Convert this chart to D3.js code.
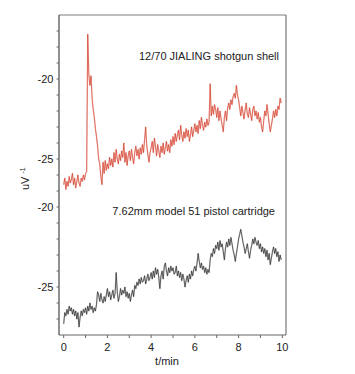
<!DOCTYPE html>
<html>
<head>
<meta charset="utf-8">
<script src="https://cdn.jsdelivr.net/npm/d3@7"></script>
<style>
html,body{margin:0;padding:0;background:#fff;}
svg{display:block;}
text{font-family:"Liberation Sans",Arial,sans-serif;fill:#222;}
</style>
</head>
<body>
<svg id="chart" width="355" height="374"></svg>
<script>
// sampling step of both traces (minutes)
const step = 0.05;
// 12/70 JIALING shotgun shell (upper trace)
const shotgun = [
-26.6,-26.2,-26.9,-26.4,-26.7,-26.1,-26.5,-26.3,-25.9,-26.6,-26.2,-26.8,-26.4,-26.0,-26.5,-26.7,-26.2,-26.4,-26.0,-26.3,
-25.9,-25.8,-17.2,-19.7,-20.4,-19.8,-21.2,-21.9,-22.4,-23.1,-23.6,-24.2,-25.0,-25.3,-26.1,-26.6,-25.2,-25.9,-25.1,-25.7,
-25.3,-25.6,-24.9,-25.4,-25.0,-25.5,-24.6,-25.2,-24.4,-25.0,-25.3,-24.7,-25.1,-24.5,-24.9,-24.0,-25.2,-24.6,-25.4,-24.8,
-24.5,-25.1,-24.4,-24.9,-25.3,-24.6,-24.2,-24.8,-24.4,-25.0,-24.3,-24.7,-24.1,-24.6,-23.8,-23.0,-24.2,-24.7,-25.2,-24.6,
-24.3,-23.9,-24.6,-23.7,-24.2,-24.8,-24.1,-24.5,-24.9,-24.2,-24.6,-24.0,-24.7,-24.3,-23.9,-24.5,-24.1,-24.6,-23.8,-24.2,
-23.6,-24.1,-23.4,-23.9,-23.5,-23.2,-23.8,-22.9,-23.5,-23.9,-23.3,-23.7,-23.1,-23.6,-23.2,-23.9,-23.5,-23.0,-23.6,-23.2,
-22.8,-23.3,-22.9,-23.4,-22.6,-23.1,-22.4,-22.9,-23.2,-22.7,-23.0,-22.5,-22.9,-22.7,-20.3,-22.3,-21.7,-22.2,-21.6,-21.9,
-22.4,-21.8,-22.6,-22.0,-22.5,-22.9,-23.3,-22.4,-22.0,-22.6,-21.8,-21.5,-21.9,-21.3,-21.6,-21.1,-20.9,-21.2,-20.4,-21.0,
-21.3,-21.8,-22.3,-21.7,-22.1,-22.5,-21.9,-21.5,-22.2,-22.4,-21.8,-22.2,-22.6,-21.9,-21.7,-22.3,-22.0,-22.5,-22.1,-22.7,
-22.4,-23.0,-23.3,-22.6,-22.0,-22.3,-21.6,-22.2,-22.8,-23.3,-22.9,-22.5,-22.0,-22.4,-21.9,-22.3,-21.7,-21.9,-21.2,-21.5
];
// 7.62mm model 51 pistol cartridge (lower trace)
const pistol = [
-27.3,-26.6,-26.8,-26.4,-26.7,-26.2,-26.5,-26.3,-26.7,-26.4,-26.8,-26.5,-27.0,-26.6,-27.5,-26.9,-26.5,-26.8,-26.4,-26.6,
-26.3,-26.7,-26.2,-26.5,-26.0,-26.4,-26.2,-26.6,-26.3,-26.5,-26.1,-25.3,-25.5,-25.9,-25.4,-25.8,-26.0,-25.6,-25.9,-25.5,
-25.1,-25.6,-25.3,-25.8,-25.5,-25.2,-25.7,-25.4,-24.1,-25.3,-25.9,-25.6,-25.1,-25.5,-25.2,-25.4,-25.0,-25.6,-25.3,-25.7,
-25.4,-25.9,-25.5,-25.2,-25.6,-24.9,-25.1,-24.7,-24.9,-24.5,-24.8,-24.4,-24.7,-24.6,-24.3,-24.8,-24.5,-24.2,-24.6,-24.4,
-24.1,-24.5,-24.0,-24.4,-23.8,-24.2,-23.9,-24.4,-25.1,-24.3,-24.0,-24.5,-23.7,-23.5,-24.0,-24.3,-23.8,-24.1,-23.7,-24.0,
-23.8,-24.2,-24.1,-23.7,-24.3,-24.0,-24.4,-24.1,-24.6,-24.2,-24.5,-25.0,-24.6,-24.3,-24.7,-24.2,-24.5,-24.0,-24.3,-23.9,
-23.7,-24.0,-23.5,-22.9,-23.4,-23.8,-23.5,-23.9,-23.7,-24.1,-23.8,-24.2,-23.9,-24.1,-23.3,-22.9,-23.1,-22.6,-22.9,-22.4,
-22.6,-22.2,-22.7,-22.1,-22.5,-22.3,-22.8,-23.3,-22.6,-22.2,-22.5,-22.0,-22.4,-21.9,-22.3,-22.7,-23.0,-23.4,-22.9,-22.5,
-22.0,-21.7,-21.4,-21.8,-22.2,-22.5,-22.9,-22.6,-22.3,-22.8,-23.2,-22.7,-22.4,-22.0,-22.3,-21.9,-22.2,-22.4,-22.1,-22.6,
-22.3,-22.8,-22.5,-22.9,-22.6,-23.1,-22.7,-23.3,-22.9,-23.6,-23.2,-22.8,-22.5,-22.9,-22.6,-23.1,-22.8,-23.4,-23.0,-23.3
];
const xTicks = [0, 2, 4, 6, 8, 10];
const xMinorTicks = [0,1,2,3,4,5,6,7,8,9,10];
const yLabelTicks = [-20, -25];
const topMinorTicks = [-17,-18,-19,-20,-21,-22,-23,-24,-25,-26];
const botMinorTicks = [-19,-20,-21,-22,-23,-24,-25,-26,-27];
const labelTop = "12/70 JIALING shotgun shell";
const labelBot = "7.62mm model 51 pistol cartridge";

const svg = d3.select("#chart");
const L = 59, R = 286, T = 15, B = 335;

const x = d3.scaleLinear().domain([0, 10]).range([63.7, 282.3]);
const yTop = d3.scaleLinear().domain([-20, -25]).range([79, 159]);
const yBot = d3.scaleLinear().domain([-20, -25]).range([207, 287]);

// frame
svg.append("line").attr("x1", L).attr("x2", R).attr("y1", T).attr("y2", T)
  .attr("stroke", "#a8a8a8").attr("stroke-width", 1.6);
svg.append("line").attr("x1", R).attr("x2", R).attr("y1", T).attr("y2", B)
  .attr("stroke", "#6a6a6a").attr("stroke-width", 1.1);

// traces
function drawTrace(data, yScale, halo, core) {
  const line = d3.line().x((d, i) => x(i * step)).y(d => yScale(d));
  svg.append("path").attr("d", line(data)).attr("fill", "none")
    .attr("stroke", halo).attr("stroke-width", 1.5).attr("stroke-linejoin", "round");
  svg.append("path").attr("d", line(data)).attr("fill", "none")
    .attr("stroke", core).attr("stroke-width", 0.6).attr("stroke-linejoin", "round");
}
drawTrace(shotgun, yTop, "#f3cfc8", "#d02a18");
drawTrace(pistol, yBot, "#cccccc", "#151515");

// y axis
svg.append("line").attr("x1", L).attr("x2", L).attr("y1", T).attr("y2", B)
  .attr("stroke", "#555").attr("stroke-width", 1.3);
const yTickG = svg.append("g");
topMinorTicks.forEach(v => yTickG.append("line").attr("x1", L - 2.5).attr("x2", L)
  .attr("y1", yTop(v)).attr("y2", yTop(v)).attr("stroke", "#666").attr("stroke-width", 1));
botMinorTicks.forEach(v => yTickG.append("line").attr("x1", L - 2.5).attr("x2", L)
  .attr("y1", yBot(v)).attr("y2", yBot(v)).attr("stroke", "#666").attr("stroke-width", 1));
[yTop, yBot].forEach(s => yLabelTicks.forEach(v => {
  svg.append("text").attr("x", 53.5).attr("y", s(v)).attr("dy", "0.36em")
    .attr("text-anchor", "end").attr("font-size", 11).text(v);
}));

// x axis
svg.append("line").attr("x1", L).attr("x2", R).attr("y1", B).attr("y2", B)
  .attr("stroke", "#666").attr("stroke-width", 1.2);
xMinorTicks.forEach(v => svg.append("line").attr("x1", x(v)).attr("x2", x(v))
  .attr("y1", B).attr("y2", B + 3).attr("stroke", "#666").attr("stroke-width", 1));
xTicks.forEach(v => svg.append("text").attr("x", x(v)).attr("y", 350.5)
  .attr("text-anchor", "middle").attr("font-size", 11).text(v));

svg.append("text").attr("x", 167).attr("y", 364.5).attr("text-anchor", "middle")
  .attr("font-size", 11).text("t/min");

// y label
const yl = svg.append("text").attr("transform", "translate(29,190) rotate(-90)")
  .attr("font-size", 11);
yl.append("tspan").text("uV ");
yl.append("tspan").attr("font-size", 7).attr("dy", -4).text("-1");

// annotations
svg.append("text").attr("x", 279).attr("y", 60).attr("text-anchor", "end")
  .attr("font-size", 11).text(labelTop);
svg.append("text").attr("x", 275).attr("y", 215).attr("text-anchor", "end")
  .attr("font-size", 11).text(labelBot);
</script>
</body>
</html>
